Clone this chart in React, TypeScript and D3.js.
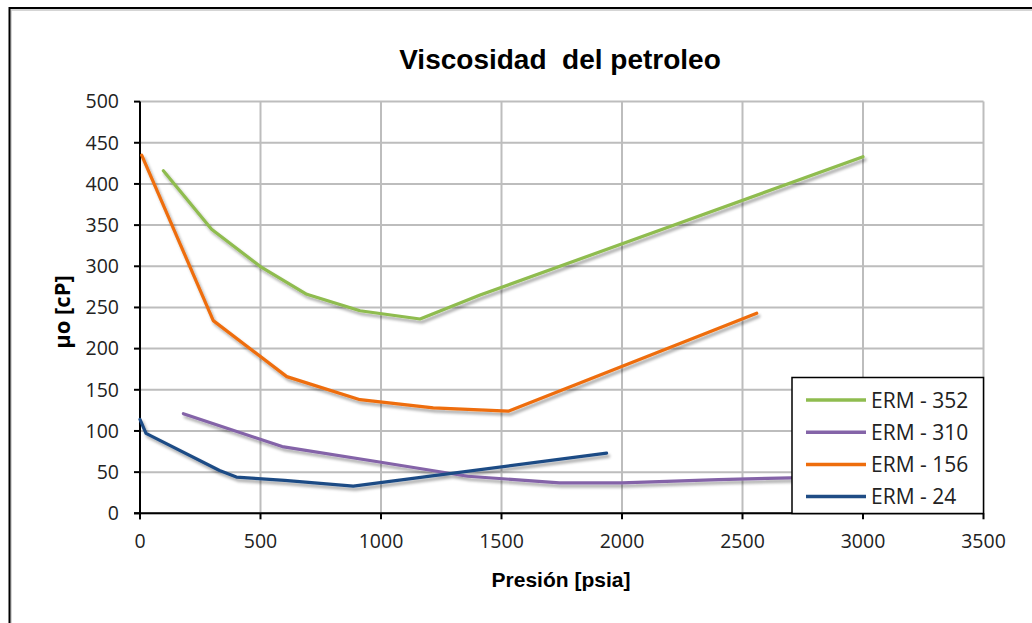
import React from "react";
import * as d3 from "d3";

// Presión [psia] vs viscosity μo [cP] for each sample
const erm352: [number, number][] = [
  [97, 416], [297, 345], [498, 300], [692, 266], [913, 246], [1162, 236], [1411, 265], [3000, 433],
];
const erm310: [number, number][] = [
  [180, 121], [590, 81], [1000, 62], [1360, 45], [1740, 37], [2000, 37], [2400, 41], [2700, 43], [3000, 46],
];
const erm156: [number, number][] = [
  [7, 435], [304, 234], [609, 166], [913, 138], [1217, 128], [1528, 124], [2559, 243],
];
const erm24: [number, number][] = [
  [0, 114], [25, 97], [330, 52], [400, 44], [600, 40], [885, 33], [1936, 73],
];

const seriesNames = ["ERM - 352", "ERM - 310", "ERM - 156", "ERM - 24"];
const seriesColors = ["#8fbc4f", "#8464a8", "#ee6d0c", "#1f4c85"];
const seriesData = [erm352, erm310, erm156, erm24];

const xTicks = [0, 500, 1000, 1500, 2000, 2500, 3000, 3500];
const yTicks = [0, 50, 100, 150, 200, 250, 300, 350, 400, 450, 500];

const W = 1032;
const H = 623;

export default function App() {
  const x = d3.scaleLinear().domain([0, 3500]).range([140, 983.5]);
  const y = d3.scaleLinear().domain([0, 500]).range([513.3, 101.6]);
  const line = d3
    .line<[number, number]>()
    .x((d) => x(d[0]))
    .y((d) => y(d[1]));

  const tickFont = "'Open Sans', 'Noto Sans', sans-serif";
  const titleFont = "'Liberation Sans', Arial, sans-serif";

  const legX = 792;
  const legY = 377.5;
  const legW = 191.5;
  const legH = 136;

  return (
    <svg
      width={W}
      height={H}
      style={{ position: "absolute", left: 0, top: 0, background: "#fff" }}
    >
      <defs>
        <filter id="lineShadow" x="-10%" y="-10%" width="130%" height="140%">
          <feGaussianBlur in="SourceAlpha" stdDeviation="1.6" />
          <feOffset dx="2" dy="3" result="off" />
          <feComponentTransfer>
            <feFuncA type="linear" slope="0.35" />
          </feComponentTransfer>
          <feMerge>
            <feMergeNode />
            <feMergeNode in="SourceGraphic" />
          </feMerge>
        </filter>
      </defs>

      {/* chart frame */}
      <rect x={11} y={10} width={1040} height={640} fill="none" stroke="#c8c8c8" strokeWidth={1.5} />
      <rect x={9.5} y={8} width={1040} height={640} fill="none" stroke="#000" strokeWidth={2} />

      {/* title */}
      <text
        x={560}
        y={69}
        textAnchor="middle"
        fontFamily={titleFont}
        fontWeight="bold"
        fontSize={28}
        fill="#000"
        style={{ whiteSpace: "pre" }}
      >
        {"Viscosidad  del petroleo"}
      </text>

      {/* gridlines */}
      <g stroke="#bdbdbd" strokeWidth={2}>
        {yTicks.map((t) => (
          <line key={"gy" + t} x1={x(0)} x2={x(3500)} y1={y(t)} y2={y(t)} />
        ))}
        {xTicks.map((t) => (
          <line key={"gx" + t} x1={x(t)} x2={x(t)} y1={y(0)} y2={y(500)} />
        ))}
      </g>

      {/* axes */}
      <g stroke="#000" strokeWidth={2}>
        <line x1={x(0)} x2={x(0)} y1={y(0) + 6} y2={y(500)} />
        <line x1={x(0) - 6} x2={x(3500)} y1={y(0)} y2={y(0)} />
        {yTicks.map((t) => (
          <line key={"ty" + t} x1={x(0) - 6} x2={x(0)} y1={y(t)} y2={y(t)} />
        ))}
        {xTicks.map((t) => (
          <line key={"tx" + t} x1={x(t)} x2={x(t)} y1={y(0)} y2={y(0) + 6} />
        ))}
      </g>

      {/* tick labels */}
      <g fontFamily={tickFont} fontSize={19.5} fill="#222">
        {yTicks.map((t) => (
          <text key={"ly" + t} x={119} y={y(t)} dy="0.35em" textAnchor="end">
            {t}
          </text>
        ))}
        {xTicks.map((t) => (
          <text key={"lx" + t} x={x(t)} y={548} textAnchor="middle">
            {t}
          </text>
        ))}
      </g>

      {/* axis titles */}
      <text
        x={561}
        y={587}
        textAnchor="middle"
        fontFamily={titleFont}
        fontWeight="bold"
        fontSize={21}
        fill="#000"
      >
        Presión [psia]
      </text>
      <text
        transform={`translate(70, 312) rotate(-90)`}
        textAnchor="middle"
        fontFamily={tickFont}
        fontWeight="bold"
        fontSize={22}
        fill="#000"
      >
        μo [cP]
      </text>

      {/* series */}
      <g fill="none" strokeWidth={3.2} strokeLinejoin="round" strokeLinecap="round" filter="url(#lineShadow)">
        {seriesData.map((s, i) => (
          <path key={seriesNames[i]} d={line(s) ?? ""} stroke={seriesColors[i]} />
        ))}
      </g>

      {/* legend */}
      <rect x={legX} y={legY} width={legW} height={legH} fill="#fff" stroke="#000" strokeWidth={1.5} />
      {seriesNames.map((n, i) => {
        const cy = 400 + i * 32.2;
        return (
          <g key={"leg" + n}>
            <line x1={806} x2={866} y1={cy} y2={cy} stroke={seriesColors[i]} strokeWidth={3.5} />
            <text x={871} y={cy} dy="0.36em" fontFamily={tickFont} fontSize={21} fill="#222">
              {n}
            </text>
          </g>
        );
      })}
    </svg>
  );
}
